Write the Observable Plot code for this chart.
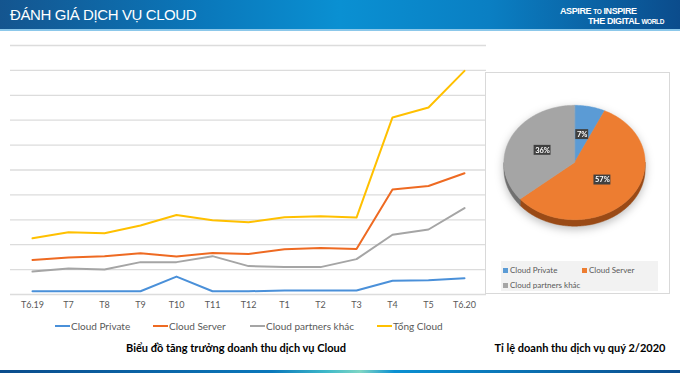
<!DOCTYPE html>
<html><head><meta charset="utf-8">
<script src="https://cdn.jsdelivr.net/npm/d3@7"></script>
<script src="https://cdn.jsdelivr.net/npm/@observablehq/plot@0.6"></script>
<style>
body{margin:0;width:680px;height:373px;overflow:hidden;background:#fff;font-family:Lato,"Noto Sans",sans-serif;position:relative}
#header{position:absolute;left:0;top:0;width:680px;height:29px;background:linear-gradient(to right,#14558f 0%,#0a78bb 30%,#0a90d2 50%,#0a7fc3 72%,#0b4c8c 100%);border-bottom:2px solid #8cc8ea}
#title{position:absolute;left:10px;top:6px;color:#fff;font-family:"Liberation Sans",Arial,sans-serif;font-size:15px;letter-spacing:-0.4px}
.logo{position:absolute;color:#fff;font-family:"Liberation Sans",Arial,sans-serif;font-weight:bold;font-size:9px;letter-spacing:-0.4px;white-space:nowrap}
.logo small{font-size:6.5px;font-weight:bold}
#linechart{position:absolute;left:0;top:40px}
#piebox{position:absolute;left:485px;top:72px;width:185px;height:222px;box-sizing:border-box;border:1px solid #d9d9d9;background:#fff}
#pie{position:absolute;left:-1px;top:-1px;filter:drop-shadow(0 3px 4px rgba(0,0,0,0.25))}
#pielegend{position:absolute;left:15px;top:188px;width:157px;height:30px;background:#f2f2f2}
.pli{position:absolute;font-size:8px;color:#595959;white-space:nowrap;line-height:8px}
.pli i{display:inline-block;width:5px;height:5px;margin-right:2px;vertical-align:0px}
.lli{position:absolute;top:320px;font-size:10px;color:#595959;white-space:nowrap;line-height:12px}
.lli i{display:inline-block;width:15px;height:2px;vertical-align:3px;margin-right:1px}
.cap{position:absolute;top:341px;font-size:11px;font-weight:bold;color:#000;white-space:nowrap;transform:translateX(-50%)}
#footer{position:absolute;left:0;top:370px;width:680px;height:3px;background:linear-gradient(to right,#0b4c8c 0%,#0a78bb 40%,#3fb9c9 48%,#7fd6c4 53%,#0a90d2 58%,#0b4c8c 100%)}
</style></head><body>
<div id="header">
  <div id="title">ĐÁNH GIÁ DỊCH VỤ CLOUD</div>
  <div class="logo" style="left:560px;top:6px">ASPIRE <small>TO</small> INSPIRE</div>
  <div class="logo" style="left:588px;top:16px">THE DIGITAL <small>WORLD</small></div>
</div>
<div id="linechart"></div>
<div id="piebox"><div id="pie"></div><div id="pielegend"></div></div>
<div id="legend"></div>
<div class="cap" style="left:236px">Biểu đồ tăng trưởng doanh thu dịch vụ Cloud</div>
<div class="cap" style="left:580px">Tỉ lệ doanh thu dịch vụ quý 2/2020</div>
<div id="footer"></div>
<script>
const months = ["T6.19","T7","T8","T9","T10","T11","T12","T1","T2","T3","T4","T5","T6.20"];
const cloudPrivate  = [0.13,0.13,0.13,0.13,0.72,0.13,0.13,0.16,0.16,0.16,0.55,0.57,0.65];
const cloudServer   = [1.39,1.49,1.54,1.66,1.53,1.67,1.63,1.82,1.87,1.83,4.22,4.36,4.87];
const cloudPartners = [0.92,1.04,1.00,1.30,1.30,1.54,1.14,1.10,1.10,1.42,2.40,2.61,3.47];
const tongCloud     = [2.26,2.50,2.46,2.77,3.19,2.98,2.90,3.10,3.14,3.09,7.11,7.51,8.98];
const seriesNames = ["Cloud Private","Cloud Server","Cloud partners khác","Tổng Cloud"];
const seriesColors = ["#4a90d9","#ee6a22","#a5a5a5","#ffc000"];
const gridTicks = [0,1,2,3,4,5,6,7,8,9,10];

const pieLabels = ["Cloud Private","Cloud Server","Cloud partners khác"];
const pieShares = [7,57,36];
const pieColors = ["#5b9bd5","#ed7d31","#a5a5a5"];
const pieSideColors = ["#3f78ad","#9a4a16","#707070"];

// ---- line chart ----
const seriesValues = [cloudPrivate, cloudServer, cloudPartners, tongCloud];
const rows = [];
seriesNames.forEach((s, i) => months.forEach((m, j) => rows.push({series: s, month: m, value: seriesValues[i][j]})));

const line = Plot.plot({
  width: 490, height: 275,
  marginLeft: 10, marginRight: 4, marginTop: 5, marginBottom: 21,
  style: {fontFamily: "Lato, 'Noto Sans', sans-serif", background: "transparent", overflow: "visible"},
  x: {domain: months, padding: 0.5, label: null},
  y: {domain: [0, 10], axis: null},
  color: {domain: seriesNames, range: seriesColors},
  marks: [
    Plot.ruleY(gridTicks, {stroke: "#dcdcdc", strokeWidth: 1.3}),
    Plot.axisX({tickSize: 0, tickPadding: 7.5, fontSize: 9, fill: "#595959", label: null}),
    Plot.line(rows, {x: "month", y: "value", z: "series", stroke: "series", strokeWidth: 2})
  ]
});
document.getElementById("linechart").appendChild(line);

// legend
const legendX = [55, 153, 250, 377];
const lg = document.getElementById("legend");
seriesNames.forEach((s, i) => {
  const d = document.createElement("div");
  d.className = "lli";
  d.style.left = legendX[i] + "px";
  d.innerHTML = `<i style="background:${seriesColors[i]}"></i>${s}`;
  lg.appendChild(d);
});

// ---- pie chart ----
const W = 185, H = 222, cx = 89.5, cy = 90.5, rx = 71, ry = 57.5, depth = 6.5;
const px = a => cx + rx * Math.sin(a);
const py = a => cy - ry * Math.cos(a);
const slices = [];
let cum = 0;
pieShares.forEach((v, i) => {
  const a0 = cum / 100 * 2 * Math.PI; cum += v;
  const a1 = cum / 100 * 2 * Math.PI;
  slices.push({label: pieLabels[i], share: v, a0, a1, side: pieSideColors[i]});
});
const wedgePts = [];
const sidePts = [];
const step = Math.PI / 180;
slices.forEach(s => {
  wedgePts.push({slice: s.label, x: cx, y: cy});
  for (let a = s.a0; a < s.a1; a += step) wedgePts.push({slice: s.label, x: px(a), y: py(a)});
  wedgePts.push({slice: s.label, x: px(s.a1), y: py(s.a1)});
  const b0 = Math.max(s.a0, Math.PI / 2), b1 = Math.min(s.a1, 3 * Math.PI / 2);
  if (b1 > b0) {
    const top = [], bot = [];
    for (let a = b0; a < b1; a += step) { top.push([px(a), py(a)]); bot.push([px(a), py(a) + depth]); }
    top.push([px(b1), py(b1)]); bot.push([px(b1), py(b1) + depth]);
    top.concat(bot.reverse()).forEach(([x, y]) => sidePts.push({slice: s.label, side: s.side, x, y}));
  }
});
const labelR = 0.5;
const labels = slices.map(s => {
  const m = (s.a0 + s.a1) / 2;
  const x = cx + labelR * rx * Math.sin(m), y = cy - labelR * ry * Math.cos(m);
  const t = s.share + "%";
  const w = 4 * t.length + 5;
  return {t, x, y, x1: x - w / 2, x2: x + w / 2, y1: y - 5, y2: y + 5};
});

const pie = Plot.plot({
  width: W, height: H, margin: 0,
  style: {background: "transparent", overflow: "visible", fontFamily: "Lato, 'Noto Sans', sans-serif"},
  x: {domain: [0, W], range: [0, W], axis: null},
  y: {domain: [0, H], range: [0, H], axis: null},
  color: {domain: pieLabels, range: pieColors},
  marks: [
    Plot.line(sidePts, {x: "x", y: "y", z: "slice", fill: d => d.side, stroke: d => d.side, strokeWidth: 0.5, curve: "linear-closed"}),
    Plot.line(wedgePts, {x: "x", y: "y", z: "slice", fill: "slice", stroke: "slice", strokeWidth: 0.5, curve: "linear-closed"}),
    Plot.rect(labels, {x1: "x1", x2: "x2", y1: "y1", y2: "y2", fill: "#404040"}),
    Plot.text(labels, {x: "x", y: "y", text: "t", fill: "#fff", fontSize: 7.5, fontWeight: "bold"})
  ]
});
document.getElementById("pie").appendChild(pie);

// pie legend
const pl = document.getElementById("pielegend");
const plPos = [[2, 5], [81, 5], [2, 20]];
pieLabels.forEach((s, i) => {
  const d = document.createElement("div");
  d.className = "pli";
  d.style.left = plPos[i][0] + "px"; d.style.top = plPos[i][1] + "px";
  d.innerHTML = `<i style="background:${pieColors[i]}"></i>${s}`;
  pl.appendChild(d);
});
</script>
</body></html>
